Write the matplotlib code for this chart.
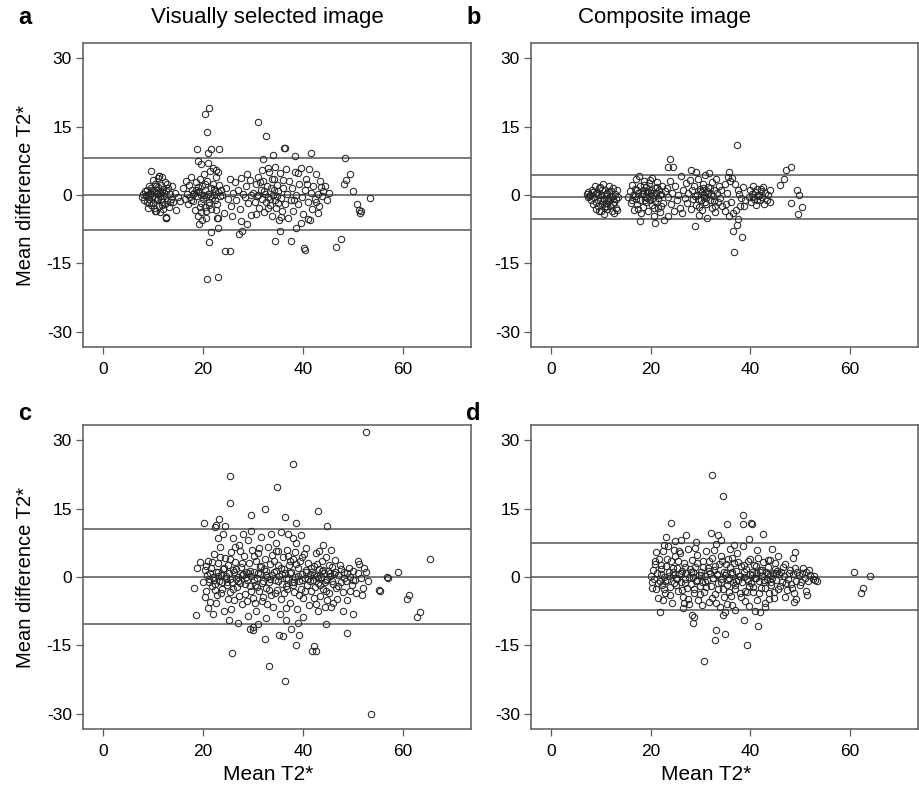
import numpy as np
import matplotlib
matplotlib.use('Agg')
import matplotlib.pyplot as plt

plt.rcParams['font.family'] = ['Liberation Sans', 'DejaVu Sans']

# (mean T2*, difference T2*), one list per panel
pts_a = [
    # cluster 8-15
    (7.8, -0.5), (8.0, 0.3), (8.2, -1.0), (8.4, 0.8), (8.5, -0.2), (8.7, 1.2), (8.8, -1.5), (9.0, 0.0),
    (9.1, 2.0), (9.2, -0.8), (9.4, 0.5), (9.5, -2.2), (9.6, 1.5), (9.8, -0.3), (9.9, 3.2), (10.0, -1.8),
    (10.1, 0.9), (10.2, -2.8), (10.3, 2.5), (10.4, -0.6), (10.5, 1.0), (10.6, -3.5), (10.7, 0.2),
    (10.8, -1.2), (10.9, 3.8), (11.0, 1.8), (11.1, -2.5), (11.2, 4.2), (11.3, 0.4), (11.4, -3.8),
    (11.5, -0.9), (11.6, 2.2), (11.7, -1.6), (11.8, 0.7), (11.9, -3.0), (12.0, 1.3), (12.1, -0.2),
    (12.3, 2.8), (12.4, -2.0), (12.5, -5.1), (12.6, 0.9), (12.8, -1.0), (13.0, 1.6), (13.2, -2.6),
    (13.4, 0.3), (13.6, -0.8), (13.8, 1.9), (14.0, -1.5), (14.3, 0.5), (14.6, -3.2), (15.0, -0.5),
    (15.3, -1.4), (9.5, 5.2), (10.4, -3.6), (11.7, 4.0), (8.9, -2.8), (12.5, -4.8), (9.3, -0.1),
    (10.8, 0.5), (11.4, -0.3), (12.2, 0.4), (8.6, 0.1), (9.8, 1.0), (10.6, 2.0), (11.0, -0.8),
    (11.8, -2.2), (12.8, 2.5), (9.2, -1.8), (13.4, -1.6),
    # cluster 16-24
    (16.0, 1.5), (16.3, -0.8), (16.5, 3.0), (16.8, 0.2), (17.0, -2.0), (17.2, 2.2), (17.4, -0.5),
    (17.6, 4.0), (17.8, 1.0), (18.0, -1.3), (18.2, 0.5), (18.4, -3.2), (18.5, 2.8), (18.7, -0.2),
    (18.9, 1.8), (19.0, -4.5), (19.2, 0.8), (19.3, 3.5), (19.5, -1.8), (19.6, 0.0), (19.8, 2.0),
    (20.0, -0.9), (20.1, 4.6), (20.3, -2.6), (20.4, 1.2), (20.6, -0.4), (20.8, 3.0), (21.0, 0.3),
    (21.1, -1.5), (21.3, 5.2), (21.5, -3.0), (21.6, 1.6), (21.8, -0.6), (22.0, 2.5), (22.2, 0.0),
    (22.4, -1.2), (22.6, 4.0), (22.8, -2.0), (23.0, 0.6), (23.2, 2.2), (23.4, -0.3), (23.6, 1.0),
    (22.0, 6.0), (21.0, 7.0), (22.5, 5.5), (23.0, 5.0), (19.5, -3.8), (20.5, -5.0), (18.0, 0.2),
    (19.0, 0.6), (20.2, 0.1), (21.4, -0.2), (22.3, 0.9), (23.8, -0.1), (17.5, -1.0), (18.6, 1.2),
    (19.4, -2.6), (20.3, 2.4), (21.2, -2.2), (22.1, 1.4), (20.6, -3.6), (22.6, -3.2),
    # cluster 24-30
    (24.5, 1.5), (25.0, -0.8), (25.3, 3.5), (25.6, -2.5), (26.0, 0.5), (26.3, 2.8), (26.6, -1.2),
    (27.0, 1.0), (27.3, -3.0), (27.6, 3.8), (28.0, 0.2), (28.3, -0.5), (28.6, 2.0), (29.0, -1.8),
    (29.3, 3.2), (29.6, 0.0), (24.2, -4.0), (25.8, -4.5), (28.8, 4.5),
    # cluster 30-37
    (30.0, 0.5), (30.3, -1.5), (30.5, 2.5), (30.8, -0.2), (31.0, 4.0), (31.2, -2.8), (31.5, 1.2),
    (31.7, -0.8), (32.0, 3.0), (32.2, -3.8), (32.4, 0.3), (32.6, -1.6), (32.8, 2.0), (33.0, -0.4),
    (33.2, 5.0), (33.4, -2.2), (33.6, 1.5), (33.8, -4.5), (34.0, 0.0), (34.2, 3.5), (34.4, -1.0),
    (34.6, -2.8), (34.8, 2.2), (35.0, 0.8), (35.2, -5.5), (35.4, 4.8), (35.6, -0.6), (35.8, -3.5),
    (36.0, 1.6), (36.3, -2.0), (36.5, 5.8), (36.8, 0.2), (31.8, 5.5), (33.0, 6.0), (30.6, -4.2),
    (34.4, 6.2), (32.2, 0.8), (33.4, -0.9), (34.8, -0.3), (31.0, 0.1), (31.4, 2.8), (32.9, -2.8),
    (34.2, 1.2), (35.0, -1.8), (36.0, 3.2), (33.8, 3.6), (35.6, -4.8),
    # cluster 37-46
    (37.2, 3.0), (37.5, -1.0), (37.8, 1.5), (38.0, -3.5), (38.3, 5.0), (38.6, 0.0), (38.9, -2.0),
    (39.2, 2.5), (39.5, 6.0), (39.8, -0.5), (40.0, -4.2), (40.3, 1.0), (40.6, 3.5), (40.9, -1.5),
    (41.2, 5.8), (41.5, 0.5), (41.8, -3.0), (42.0, 2.0), (42.3, -0.8), (42.6, 4.5), (42.9, 0.2),
    (43.2, -2.5), (43.5, 1.8), (43.8, -0.2), (44.0, 0.8), (44.4, 2.0), (44.8, -1.2), (45.2, 0.5),
    (39.0, 4.8), (37.0, -5.0), (43.0, -4.0), (41.0, -5.2), (38.2, -1.2), (40.8, 2.5), (42.6, -1.6),
    (43.4, 3.0),
    # outliers
    (21.1, 19.0), (20.4, 17.7), (20.7, 13.8), (18.8, 10.1), (21.6, 10.1), (23.2, 10.1), (20.9, 9.1),
    (18.9, 7.5), (19.5, 6.9), (30.9, 16.1), (32.5, 13.0), (36.2, 10.4), (36.3, 10.2), (33.9, 8.8),
    (32.0, 7.8), (41.6, 9.1), (38.4, 8.5), (48.3, 8.0), (49.3, 4.6), (48.6, 3.3), (48.2, 2.4),
    (50.0, 0.9), (53.4, -0.6), (50.8, -2.0), (51.1, -3.3), (51.3, -4.0), (51.5, -3.6), (47.6, -9.6),
    (46.6, -11.3), (40.2, -11.7), (40.3, -12.0), (37.6, -10.0), (34.4, -10.0), (35.4, -7.9),
    (38.6, -7.3), (39.5, -6.1), (41.3, -5.5), (21.1, -10.2), (21.5, -8.0), (24.3, -12.2),
    (25.4, -12.2), (20.8, -18.5), (22.9, -18.0), (19.1, -6.4), (19.7, -5.5), (23.0, -7.2),
    (23.0, -5.0), (22.7, -5.0), (27.2, -8.5), (27.8, -7.8), (27.6, -5.8), (28.7, -6.4), (29.6, -4.3),
    (12.5, -5.1), (11.2, 4.2),
]

pts_b = [
    # cluster 7-14
    (7.2, 0.2), (7.4, -0.5), (7.5, 0.6), (7.7, -0.2), (7.8, 0.0), (8.0, -1.0), (8.2, 1.0), (8.4, -2.0),
    (8.6, -0.4), (8.8, 2.0), (9.0, -1.5), (9.1, -3.0), (9.3, 0.5), (9.5, -2.5), (9.6, 1.5), (9.8, -1.0),
    (10.0, -3.5), (10.1, 0.0), (10.3, -2.0), (10.4, 2.5), (10.6, -0.8), (10.7, -4.2), (10.9, 1.0),
    (11.0, -1.8), (11.2, -3.0), (11.3, 0.4), (11.5, -0.6), (11.6, 2.0), (11.8, -2.4), (11.9, -1.2),
    (12.0, 0.8), (12.2, -3.6), (12.3, -0.2), (12.5, 1.6), (12.6, -1.5), (12.8, 0.2), (13.0, -2.8),
    (13.1, -0.9), (13.3, 1.2), (13.5, -0.4), (12.0, -0.5), (11.0, 0.2), (10.5, -1.4), (9.5, -0.1),
    (12.6, -4.0), (9.9, 1.8), (11.4, -1.0), (12.4, -1.9), (10.8, -2.6), (8.4, 0.6), (9.0, 0.4),
    (9.7, -3.6), (10.2, 1.2), (11.1, -2.4), (11.7, 0.8), (12.4, -0.8), (13.2, -3.2),
    # cluster 15-23
    (15.5, -0.5), (15.8, 0.8), (16.0, -1.8), (16.2, 2.2), (16.4, 0.0), (16.6, -3.2), (16.8, 1.4),
    (17.0, -0.8), (17.1, 3.5), (17.3, -2.0), (17.5, 0.5), (17.6, 4.2), (17.8, -1.2), (17.9, 2.0),
    (18.1, -4.0), (18.2, 0.2), (18.4, 1.0), (18.5, -2.6), (18.7, 3.0), (18.8, -0.4), (19.0, 1.8),
    (19.1, -1.6), (19.3, 0.6), (19.4, -3.4), (19.6, 2.6), (19.7, -0.2), (19.9, -1.0), (20.0, 1.2),
    (20.2, -2.2), (20.3, 3.8), (20.5, 0.0), (20.6, -4.6), (20.8, 1.6), (20.9, -1.4), (21.1, 0.4),
    (21.2, 2.8), (21.4, -2.8), (21.5, -0.6), (21.7, 1.0), (21.8, -3.8), (22.0, 0.2), (22.2, 2.0),
    (22.4, -1.8), (22.6, -5.5), (22.8, 0.8), (17.8, -5.6), (20.8, -6.2), (23.4, -4.6), (23.8, 7.8),
    (23.4, 6.2), (24.5, 6.1), (18.5, 0.4), (19.5, 0.9), (20.4, -0.7), (17.2, 1.0), (16.9, -0.3),
    (21.9, -0.1), (18.9, -1.2), (20.1, 0.5), (16.3, -1.0), (17.4, -3.0), (18.6, 2.2), (19.2, -0.6),
    (20.7, -2.8), (21.3, 1.8), (22.1, -2.4), (19.8, 3.2),
    # 23-27
    (23.2, 1.5), (23.5, -0.5), (23.8, 3.0), (24.0, -2.0), (24.3, 0.5), (24.6, -3.5), (24.9, 2.0),
    (25.2, -1.0), (25.5, 0.0), (25.8, -2.8), (26.0, 4.2), (26.3, -4.0), (26.5, 1.2), (26.8, -0.6),
    (27.0, 2.6),
    # cluster 27-35
    (27.3, -1.8), (27.5, 0.4), (27.8, 3.2), (28.0, -3.0), (28.1, 5.5), (28.3, 1.0), (28.5, -0.8),
    (28.7, 2.0), (28.8, -6.8), (29.0, 5.1), (29.1, -2.2), (29.3, 0.0), (29.5, 3.6), (29.6, -4.4),
    (29.8, 1.4), (30.0, -1.2), (30.2, 0.6), (30.3, -3.2), (30.5, 2.4), (30.7, -0.4), (30.8, 4.4),
    (31.0, -2.0), (31.2, 0.9), (31.3, -5.0), (31.5, 1.8), (31.7, 4.9), (31.8, -1.0), (32.0, 0.2),
    (32.2, 2.8), (32.3, -2.8), (32.5, -0.2), (32.7, 1.2), (32.9, -3.8), (33.0, 3.4), (33.2, 0.4),
    (33.4, -1.6), (33.6, 2.0), (33.8, -0.6), (34.0, 1.0), (34.3, -2.4), (30.6, -0.1), (31.4, 0.3),
    (29.9, 0.8), (32.6, -1.4), (30.9, -1.5), (29.4, -0.9), (28.9, -0.3), (30.4, 1.6), (31.1, -0.6),
    (31.9, 1.6), (32.8, -2.4), (29.7, -2.6),
    # 34-39
    (34.8, 2.5), (35.0, -3.5), (35.3, 0.5), (35.5, 4.0), (35.7, 5.1), (35.8, -4.5), (36.0, 3.0),
    (36.2, -1.5), (36.4, 3.8), (36.6, -7.8), (36.8, -12.4), (37.0, 2.4), (37.3, -6.6), (37.4, 11.0),
    (37.5, 1.0), (37.6, -5.2), (37.8, 0.2), (38.0, -2.5), (38.4, -9.3), (38.2, -0.6), (38.6, 1.8),
    (39.0, -1.2), (36.5, -4.0), (35.2, -2.0), (37.2, -3.2), (38.8, -2.4),
    # cluster 39-44
    (39.7, -0.5), (40.0, 1.0), (40.2, -1.6), (40.4, 0.3), (40.6, 2.0), (40.8, -0.8), (41.0, 0.6),
    (41.2, -2.2), (41.4, 1.4), (41.6, -0.2), (41.8, 0.0), (42.0, -1.2), (42.2, 0.8), (42.4, -0.4),
    (42.6, 1.8), (42.8, -2.0), (43.0, 0.4), (43.3, -1.0), (43.6, 0.0), (43.9, -1.6), (44.0, 1.2),
    (41.3, -1.2), (42.1, 1.4), (40.5, -0.4),
    # 46-50
    (46.0, 2.2), (46.8, 3.6), (47.1, 5.5), (48.1, 6.2), (49.4, 1.0), (49.8, 0.0), (48.1, -1.7),
    (50.3, -2.6), (49.6, -4.2),
]

pts_c = [
    # 20-25
    (20.0, -1.0), (20.3, 1.5), (20.5, -3.0), (20.7, 0.5), (20.9, 3.5), (21.1, -0.5), (21.3, -5.5),
    (21.5, 2.0), (21.7, -2.0), (21.9, 0.0), (22.1, 5.0), (22.3, -1.5), (22.5, 1.0), (22.7, -4.0),
    (22.9, 3.0), (23.1, -0.8), (23.3, 6.5), (23.5, 0.4), (23.7, -2.6), (23.9, 1.8), (24.1, -7.5),
    (24.3, 4.2), (24.5, -0.2), (24.7, -1.8), (24.9, 2.6), (21.0, -6.8), (22.0, -8.0), (23.0, 8.5),
    (24.0, 9.5), (22.6, 11.3), (22.4, 11.0),
    # 25-30
    (25.1, 0.8), (25.3, -3.2), (25.5, 5.5), (25.7, -1.0), (25.9, 1.6), (26.1, -5.0), (26.3, 3.2),
    (26.5, -0.4), (26.7, -2.2), (26.9, 0.0), (27.1, 7.0), (27.3, -1.4), (27.5, 2.2), (27.7, -6.0),
    (27.9, 0.6), (28.1, 4.6), (28.3, -3.8), (28.5, 1.2), (28.7, -0.6), (28.9, -8.5), (29.1, 3.0),
    (29.3, -2.0), (29.5, 0.2), (29.7, 6.0), (29.9, -4.6), (25.6, -7.0), (26.0, 8.5), (27.0, -10.0),
    (28.0, 9.5), (29.0, 8.0), (29.6, 10.0), (30.0, -11.0),
    # 30-36
    (30.2, 1.0), (30.4, -1.8), (30.6, 3.6), (30.8, -0.2), (31.0, 5.2), (31.2, -3.0), (31.4, 0.6),
    (31.6, 2.4), (31.8, -5.2), (32.0, -0.8), (32.2, 1.8), (32.4, 4.0), (32.6, -2.4), (32.8, 0.0),
    (33.0, 6.6), (33.2, -1.2), (33.4, 2.8), (33.6, -4.0), (33.8, 0.4), (34.0, -6.5), (34.2, 3.4),
    (34.4, -0.6), (34.6, 1.4), (34.8, -2.8), (35.0, 5.8), (35.2, 0.2), (35.4, -8.0), (35.6, 2.0),
    (35.8, -1.6), (36.0, 4.4), (31.5, 8.8), (33.5, 9.5), (34.5, 7.5), (30.5, -7.5), (32.5, -9.0),
    (35.5, 9.8), (36.2, -3.6),
    # 36-42
    (36.4, 0.8), (36.6, -2.0), (36.8, 6.0), (37.0, -0.4), (37.2, 2.6), (37.4, -5.6), (37.6, 1.2),
    (37.8, -1.2), (38.0, 4.0), (38.2, -3.2), (38.4, 0.0), (38.6, 7.5), (38.8, -7.0), (39.0, 2.0),
    (39.2, -0.8), (39.4, 3.6), (39.6, -2.6), (39.8, 0.6), (40.0, -4.6), (40.2, 5.0), (40.4, -0.2),
    (40.6, 1.6), (40.8, -1.8), (41.0, 3.0), (41.2, -6.2), (41.4, 0.4), (41.6, -3.0), (41.8, 1.0),
    (37.0, 9.5), (38.0, 8.5), (39.5, 9.2), (40.0, -8.8), (39.0, -10.0), (37.5, -11.5), (36.5, -9.5),
    # 42-47
    (42.0, -0.6), (42.2, 2.4), (42.4, -2.2), (42.6, 5.2), (42.8, 0.2), (43.0, -1.4), (43.2, 1.8),
    (43.4, -4.2), (43.6, 0.0), (43.8, 3.4), (44.0, -2.6), (44.2, 0.8), (44.4, -1.0), (44.6, 4.4),
    (44.8, -0.4), (45.0, 1.4), (45.2, -3.6), (45.4, 0.2), (45.6, -6.5), (45.8, 2.2), (46.0, -1.6),
    (46.2, 0.6), (46.4, 3.8), (46.6, -2.4), (46.8, -4.8), (43.0, -7.5), (44.4, -6.5), (42.5, -6.0),
    (45.5, 6.0), (44.0, 7.0),
    # 47-54
    (47.0, 0.4), (47.3, 2.6), (47.6, -1.2), (47.9, -3.2), (48.2, 1.0), (48.5, -0.8), (48.8, -5.0),
    (49.1, 2.0), (49.4, 0.0), (49.7, -1.8), (50.0, 1.4), (50.3, -0.6), (50.6, -3.5), (50.9, 0.8),
    (51.2, 2.8), (51.5, -0.3), (51.8, -4.0), (52.2, 2.0), (52.6, 1.2), (53.0, -0.8), (48.0, -7.5),
    (50.0, -8.2), (51.0, 3.6), (52.0, -2.5),
    # dense band
    (21.4, 0.8), (22.2, -0.6), (23.0, 1.2), (23.8, -1.0), (24.6, 0.3), (25.4, -0.4), (26.2, 1.0),
    (27.0, -0.9), (27.8, 0.5), (28.6, -0.1), (29.4, 1.4), (30.1, -0.7), (30.9, 0.9), (31.7, -1.3),
    (32.5, 0.4), (33.3, -0.5), (34.1, 1.1), (34.9, -0.8), (35.7, 0.6), (36.5, -0.3), (37.3, 0.9),
    (38.1, -1.1), (38.9, 0.3), (39.7, -0.6), (40.5, 1.0), (41.3, -0.9), (42.1, 0.5), (42.9, -0.2),
    (43.7, 1.3), (44.5, -0.7), (45.3, 0.8),
    (20.6, 2.4), (21.2, -1.2), (21.8, 3.2), (22.4, -2.8), (23.0, 0.2), (23.6, -3.6), (24.2, 2.0),
    (24.8, -1.0), (25.4, 4.0), (26.0, -2.6), (26.6, 1.8), (27.2, -4.2), (27.8, 3.0), (28.4, -1.6),
    (29.0, 0.8), (29.6, -3.0), (30.2, 4.6), (30.8, -2.2), (31.4, 2.2), (32.0, -4.4), (32.6, 1.4),
    (33.2, -2.8), (33.8, 4.8), (34.4, -3.6), (35.0, 2.6), (35.6, -4.8), (36.2, 1.8), (36.8, -2.6),
    (37.4, 3.6), (38.0, -1.8), (38.6, 2.8), (39.2, -4.0), (39.8, 4.4), (40.4, -3.0), (41.0, -0.4),
    (41.6, 2.0), (42.2, -4.6), (42.8, 2.8), (43.4, -1.8), (44.0, 1.6), (44.6, -3.0), (45.2, 2.6),
    (45.8, -0.8), (46.4, 1.0), (47.0, -2.0), (47.6, 1.8), (48.2, -0.2), (48.8, 0.8), (49.4, -3.0),
    (50.0, -0.6), (20.4, -4.4), (22.6, -5.8), (25.0, -4.8), (27.4, 5.6), (30.4, -5.8), (31.2, 6.4),
    (34.6, 5.6), (36.6, -6.8), (40.6, 6.4), (43.2, 5.8), (46.0, -5.6), (26.4, 6.6), (28.8, -5.2),
    (32.8, -6.0), (38.4, 5.4), (23.4, 4.4), (37.0, 4.6), (44.8, -5.0),
    # outliers
    (52.6, 31.8), (37.9, 24.8), (25.3, 22.1), (34.7, 19.7), (25.4, 16.3), (32.4, 14.9), (29.6, 13.6),
    (42.9, 14.5), (36.3, 13.2), (38.6, 11.9), (44.7, 11.2), (20.1, 11.8), (23.1, 12.8), (24.3, 11.1),
    (65.3, 4.0), (58.9, 1.2), (56.8, 0.0), (56.9, -0.3), (55.2, -2.8), (55.3, -3.0), (61.2, -3.9),
    (60.8, -4.9), (63.3, -7.7), (62.8, -8.8), (53.5, -30.1), (36.3, -22.8), (33.1, -19.5),
    (25.7, -16.7), (41.8, -16.2), (42.5, -16.2), (42.2, -15.2), (38.6, -14.8), (35.1, -12.6),
    (36.0, -13.0), (32.4, -13.5), (39.1, -12.7), (48.7, -12.2), (44.6, -10.4), (18.5, -8.4),
    (18.2, -2.5), (18.7, 1.9), (19.3, 3.3), (29.3, -11.3), (29.9, -11.7), (30.9, -10.3), (25.1, -9.5),
]

pts_d = [
    # 20-25
    (20.0, 0.2), (20.3, -1.2), (20.5, 1.5), (20.7, -0.4), (20.9, 2.8), (21.1, -2.6), (21.3, 0.8),
    (21.5, -4.7), (21.7, 4.0), (21.9, -0.8), (22.1, 1.8), (22.3, -1.8), (22.5, 5.6), (22.7, 0.0),
    (22.9, -3.4), (23.1, 2.4), (23.3, -0.6), (23.5, 6.8), (23.7, 1.0), (23.9, -2.2), (24.1, 3.4),
    (24.3, -5.6), (24.5, 0.4), (24.7, -1.4), (24.9, 4.6), (21.9, -7.6), (24.0, 11.8), (22.6, 7.0),
    (23.0, 8.8), (24.8, 7.8),
    # 25-30
    (25.1, -0.2), (25.3, 2.0), (25.5, -3.0), (25.7, 0.6), (25.9, 5.2), (26.1, -1.0), (26.3, 1.4),
    (26.5, -4.4), (26.7, 3.0), (26.9, -0.4), (27.1, 0.8), (27.3, -2.4), (27.5, 6.2), (27.7, -6.0),
    (27.9, 1.8), (28.1, -1.6), (28.3, 3.8), (28.5, 0.0), (28.7, -3.6), (28.9, 2.2), (29.1, -0.8),
    (29.3, 4.8), (29.5, -5.0), (29.7, 0.4), (29.9, -2.0), (28.4, -10.0), (28.6, -8.8), (28.2, -8.3),
    (26.0, 8.2), (27.0, 9.2), (29.0, 7.6), (26.5, -6.8), (25.4, 3.6),
    # 30-35
    (30.1, 1.2), (30.3, -1.2), (30.5, 3.4), (30.7, -3.2), (30.9, 0.2), (31.1, 5.6), (31.3, -0.6),
    (31.5, 2.0), (31.7, -5.4), (31.9, 0.8), (32.1, -2.0), (32.3, 4.2), (32.5, -0.2), (32.7, 1.6),
    (32.9, -3.8), (33.1, 7.2), (33.3, 0.4), (33.5, -1.4), (33.7, 2.8), (33.9, -6.6), (34.1, -0.4),
    (34.3, 3.6), (34.5, -2.6), (34.7, 1.0), (34.9, -7.6), (32.0, 9.6), (33.5, 9.2), (34.0, 8.2),
    (30.6, -18.4), (32.9, -13.8), (33.0, -11.7), (35.0, -12.4), (33.0, -5.8), (34.5, -8.4),
    # 35-40
    (35.1, 0.8), (35.3, -1.8), (35.5, 4.0), (35.7, -0.2), (35.9, 2.2), (36.1, -4.2), (36.3, 0.6),
    (36.5, -1.0), (36.7, 3.0), (36.9, -2.6), (37.1, 1.4), (37.3, 5.2), (37.5, -0.6), (37.7, 0.2),
    (37.9, -3.4), (38.1, 2.4), (38.3, -1.2), (38.5, 6.8), (38.7, 0.0), (38.9, -5.2), (39.1, 1.8),
    (39.3, -0.4), (39.5, 3.6), (39.7, -2.0), (39.9, 0.6), (37.0, -7.2), (36.4, -6.2), (38.8, -9.4),
    (39.4, -14.8), (39.0, -3.0), (38.6, 11.6), (38.6, 13.6), (39.8, 8.3), (36.0, 6.2),
    # 40-46
    (40.1, -1.4), (40.3, 1.0), (40.5, -3.2), (40.7, 2.6), (40.9, -0.2), (41.1, 0.8), (41.3, -5.0),
    (41.5, 4.2), (41.7, -0.8), (41.9, 1.6), (42.1, -2.4), (42.3, 0.2), (42.5, 3.2), (42.7, -1.2),
    (42.9, -6.6), (43.1, 1.0), (43.3, -0.4), (43.5, 2.2), (43.7, -3.6), (43.9, 0.4), (44.1, -1.8),
    (44.3, 6.1), (44.5, 0.8), (44.7, -4.6), (44.9, 1.8), (45.2, -0.6), (45.5, -2.6), (45.8, 0.6),
    (42.6, 9.4), (40.2, 11.9), (40.4, 11.7), (41.6, -10.8), (41.0, -7.4), (42.0, -7.6), (43.0, -5.8),
    (44.0, 3.8), (45.0, 3.0),
    # 46-54
    (46.1, 1.2), (46.4, -1.0), (46.7, 0.2), (47.0, 2.8), (47.3, -2.8), (47.6, -0.4), (47.9, 1.6),
    (48.2, -1.6), (48.5, 0.6), (48.8, -3.4), (49.1, -0.8), (49.0, 5.4), (48.6, 4.2), (49.4, 1.2),
    (49.7, 0.4), (50.0, -1.8), (50.3, 0.8), (50.6, 2.0), (50.9, -0.2), (51.2, 1.2), (51.5, -0.8),
    (51.4, -3.9), (51.2, -3.0), (49.2, -4.8), (48.8, -5.4), (52.0, 0.4), (52.5, -0.4), (53.0, -0.6),
    (53.3, -0.8), (52.8, 0.2), (51.8, 1.6),
    # far right and top
    (60.7, 1.2), (64.0, 0.2), (62.6, -2.4), (62.1, -3.6), (32.3, 22.3), (34.5, 17.8), (35.4, 11.6),
    # dense band
    (22.0, 0.6), (22.8, -0.9), (23.6, 0.3), (24.4, 1.2), (25.2, -0.5), (26.0, 0.9), (26.8, -1.3),
    (27.6, 0.1), (28.4, 1.0), (29.2, -0.7), (30.0, 0.5), (30.8, -1.0), (31.6, 1.3), (32.4, -0.3),
    (33.2, 0.7), (34.0, -1.1), (34.8, 0.4), (35.6, -0.6), (36.4, 1.1), (37.2, -0.8), (38.0, 0.3),
    (38.8, 1.2), (39.6, -0.9), (40.4, 0.5), (41.2, -0.2), (42.0, 1.0), (42.8, -0.6), (43.6, 0.6),
    (44.4, -0.3), (45.2, 0.9),
    (20.2, -2.4), (20.8, 3.6), (21.4, -1.4), (22.0, 2.6), (22.6, -2.6), (23.2, 4.0), (23.8, -4.0),
    (24.4, 2.0), (25.0, -1.8), (25.6, 5.6), (26.2, -2.8), (26.8, 2.2), (27.4, -4.8), (28.0, 1.0),
    (28.6, -2.6), (29.2, 3.0), (29.8, -3.8), (30.4, 2.2), (31.0, -2.2), (31.6, 3.6), (32.2, -4.6),
    (32.8, 2.4), (33.4, -2.6), (34.0, 4.6), (34.6, -4.4), (35.2, 2.8), (35.8, -3.2), (36.4, 4.2),
    (37.0, -1.8), (37.6, 3.2), (38.2, -4.4), (38.8, 2.6), (39.4, -3.2), (40.0, 4.0), (40.6, -2.2),
    (41.2, 2.4), (41.8, -3.6), (42.4, 1.6), (43.0, -2.4), (43.6, 3.8), (44.2, -1.2), (44.8, -3.2),
    (45.4, 1.4), (46.0, -2.0), (46.6, 2.2), (47.2, -1.4), (47.8, 0.8), (48.4, -2.4), (49.0, 2.0),
    (50.2, -1.2), (21.0, 5.4), (22.4, -5.0), (24.6, 6.0), (26.6, -5.8), (28.8, 6.4), (30.2, -6.2),
    (32.6, 6.0), (35.4, -6.0), (36.8, 7.0), (39.8, -6.4), (41.4, 6.0), (43.8, -4.8), (45.6, 4.6),
    (47.0, -4.4),
]

# upper limit, mean difference, lower limit
loa_a = [8.0, 0.1, -7.7]
loa_b = [4.4, -0.4, -5.2]
loa_c = [10.6, 0.0, -10.4]
loa_d = [7.5, 0.1, -7.3]

x_ticks = [0, 20, 40, 60]
y_ticks = [-30, -15, 0, 15, 30]

W, H = 920, 788
fig = plt.figure(figsize=(W / 100, H / 100), dpi=100)


def px_axes(left, top, right, bottom):
    return fig.add_axes([left / W, 1 - bottom / H, (right - left) / W, (bottom - top) / H])


panels = [
    (px_axes(83, 43, 471, 347), pts_a, loa_a),
    (px_axes(531, 43, 918, 347), pts_b, loa_b),
    (px_axes(83, 425, 471, 729), pts_c, loa_c),
    (px_axes(531, 425, 918, 729), pts_d, loa_d),
]

frame_col = '#5a5a5a'
for ax, pts, loa in panels:
    arr = np.array(pts)
    for v in loa:
        ax.axhline(v, color='#6e6e6e', lw=1.3, zorder=1)
    ax.plot(arr[:, 0], arr[:, 1], 'o', mfc='none', mec='#262626', ms=4.6, mew=0.75, zorder=2)
    ax.set_xlim(-4, 73.6)
    ax.set_ylim(-33.3, 33.3)
    ax.set_xticks(x_ticks)
    ax.set_yticks(y_ticks)
    ax.set_yticklabels([str(t) for t in y_ticks])
    ax.tick_params(direction='out', length=5, width=0.9, color=frame_col, labelsize=12.5, pad=3)
    ax.tick_params(axis='x', pad=6)
    for s in ax.spines.values():
        s.set_color(frame_col)
        s.set_linewidth(1.1)

fig.text(267 / W, 1 - 18 / H, 'Visually selected image', ha='center', va='center', fontsize=16)
fig.text(664 / W, 1 - 18 / H, 'Composite image', ha='center', va='center', fontsize=16)
for lab, x, y in [('a', 18, 18), ('b', 466, 18), ('c', 18, 414), ('d', 466, 414)]:
    fig.text(x / W, 1 - y / H, lab, ha='left', va='center', fontsize=17, fontweight='bold')
for yc in (195, 578):
    fig.text(26 / W, 1 - yc / H, 'Mean difference T2*', rotation=90, ha='center', va='center', fontsize=14.5)
for xc in (268, 706):
    fig.text(xc / W, 1 - 775 / H, 'Mean T2*', ha='center', va='center', fontsize=15)

fig.savefig('out.png', dpi=100)
